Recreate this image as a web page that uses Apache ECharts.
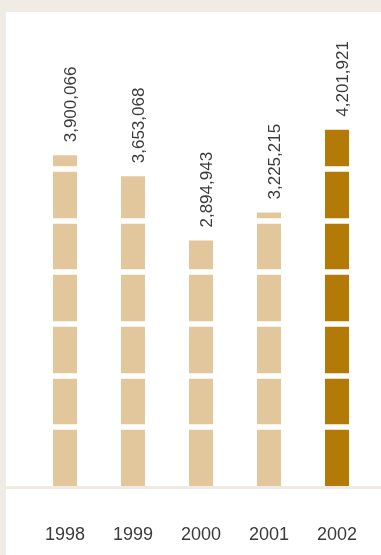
<!DOCTYPE html>
<html><head><meta charset="utf-8">
<script src="https://cdn.jsdelivr.net/npm/echarts@6/dist/echarts.min.js"></script>
<style>html,body{margin:0;padding:0;background:#f0ece5}#c{width:381px;height:555px}</style>
</head><body><div id="c"></div>
<script>
const years = ['1998', '1999', '2000', '2001', '2002'];
const values = [3900066, 3653068, 2894943, 3225215, 4201921];
const colors = ['#e3c79c', '#e3c79c', '#e3c79c', '#e3c79c', '#b37a07'];

const chart = echarts.init(document.getElementById('c'));
const font = 'Liberation Sans';
chart.setOption({
  backgroundColor: '#f0ece5',
  animation: false,
  graphic: [
    { type: 'rect', z: -10, shape: { x: 6, y: 12, width: 375, height: 543 }, style: { fill: '#ffffff' } },
    { type: 'rect', z: 10, shape: { x: 6, y: 486, width: 375, height: 3 }, style: { fill: '#efebe4' } }
  ],
  grid: [
    { left: 31, right: 10, top: 62, bottom: 69 },
    { left: 31, right: 10, top: 168.7, bottom: 105 }
  ],
  xAxis: [
    { type: 'category', gridIndex: 0, data: years, axisLine: { show: false }, axisTick: { show: false },
      axisLabel: { margin: 40, fontFamily: font, fontSize: 18, color: '#3c3c3c' } },
    { type: 'value', gridIndex: 1, show: false }
  ],
  yAxis: [
    { type: 'value', gridIndex: 0, min: 0, max: 5000000, show: false, splitLine: { show: false } },
    { type: 'value', gridIndex: 1, inverse: true, min: 0, max: 281.3, interval: 51.7, z: 3,
      axisLine: { show: false }, axisTick: { show: false }, axisLabel: { show: false },
      splitLine: { show: true, showMinLine: true, showMaxLine: false, lineStyle: { color: '#ffffff', width: 5.5 } } }
  ],
  series: [
    { type: 'bar', xAxisIndex: 0, yAxisIndex: 0, barWidth: 24, z: 2,
      data: values.map((v, i) => ({ value: v, itemStyle: { color: colors[i] } })) },
    { type: 'bar', xAxisIndex: 0, yAxisIndex: 0, barWidth: 24, barGap: '-100%', z: 5,
      itemStyle: { color: 'rgba(0,0,0,0)' },
      label: { show: true, position: 'top', rotate: 90, align: 'left', verticalAlign: 'middle',
        distance: 13, offset: [0, 6],
        fontFamily: font, fontSize: 17, color: '#3c3c3c',
        formatter: p => p.value.toLocaleString('en-US') },
      data: values }
  ]
});
</script></body></html>
